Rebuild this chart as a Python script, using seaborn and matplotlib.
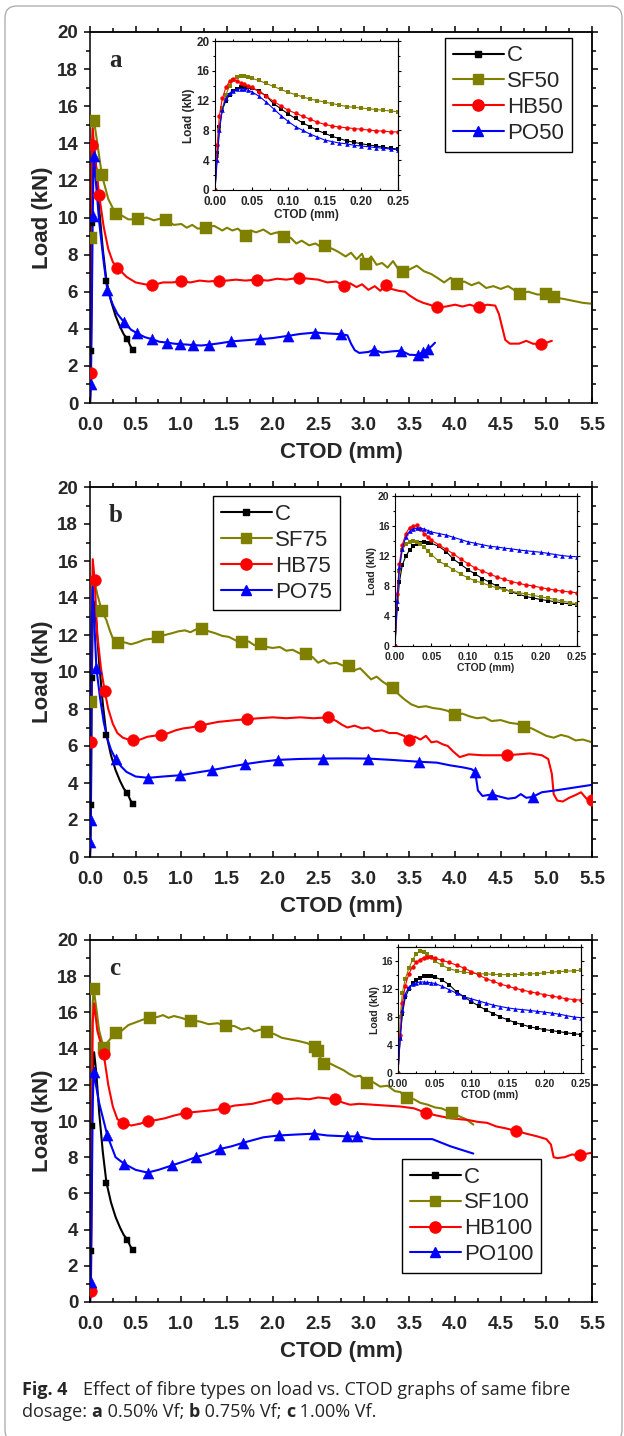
import matplotlib
matplotlib.use("Agg")
import matplotlib.pyplot as plt
import seaborn as sns
from matplotlib.lines import Line2D
from matplotlib.patches import FancyBboxPatch
from matplotlib.ticker import MultipleLocator, NullFormatter

# ---------------- data: main load vs CTOD curves ----------------
# Plain concrete (control), same specimen in every panel
C_X = [0, 0.01, 0.02, 0.03, 0.045, 0.07, 0.1, 0.14, 0.18, 0.23, 0.28, 0.33, 0.37, 0.41, 0.44, 0.47]
C_Y = [0, 2.8, 9.7, 12.8, 13.8, 12.6, 10.5, 8.3, 6.6, 5.5, 4.7, 4.1, 3.7, 3.45, 3.1, 2.85]
C_MX = [0.01, 0.02, 0.18, 0.41, 0.47]
C_MY = [2.8, 9.7, 6.6, 3.45, 2.85]

# ---- 0.50 % Vf ----
SF50_X = [0, 0.01, 0.02, 0.03, 0.045, 0.08, 0.13, 0.2, 0.25, 0.29, 0.35, 0.42, 0.53, 0.62, 0.7, 0.78,
          0.83, 0.92, 1.0, 1.06, 1.12, 1.18, 1.27, 1.36, 1.45, 1.5, 1.56, 1.62, 1.71, 1.76, 1.82, 1.9,
          1.98, 2.05, 2.13, 2.2, 2.26, 2.32, 2.4, 2.47, 2.52, 2.58, 2.66, 2.72, 2.8, 2.86, 2.92, 2.98,
          3.02, 3.08, 3.14, 3.2, 3.26, 3.32, 3.38, 3.43, 3.5, 3.58, 3.66, 3.74, 3.82, 3.88, 3.95, 4.02,
          4.1, 4.18, 4.26, 4.34, 4.42, 4.5, 4.58, 4.66, 4.71, 4.8, 4.9, 5.0, 5.08, 5.2, 5.3, 5.4, 5.5]
SF50_Y = [0, 8.9, 13.5, 15.0, 15.2, 14.0, 12.3, 11.0, 10.5, 10.2, 10.1, 9.9, 9.9, 10.0, 9.85, 9.95,
          9.85, 9.6, 9.65, 9.45, 9.6, 9.4, 9.45, 9.55, 9.3, 9.45, 9.3, 9.4, 9.0, 9.3, 9.2, 9.35,
          9.1, 9.2, 8.95, 8.9, 8.6, 8.75, 8.5, 8.6, 8.45, 8.45, 8.3, 8.15, 7.9, 8.1, 7.75, 8.05,
          7.5, 7.9, 7.45, 7.55, 7.3, 7.65, 7.2, 7.05, 7.2, 7.4, 7.1, 6.95, 6.7, 6.5, 6.75, 6.4,
          6.55, 6.35, 6.5, 6.2, 6.3, 6.15, 6.3, 6.05, 5.9, 6.0, 5.85, 5.85, 5.7, 5.6, 5.5, 5.4, 5.35]
SF50_MX = [0.01, 0.045, 0.13, 0.29, 0.53, 0.83, 1.27, 1.71, 2.13, 2.58, 3.02, 3.43, 4.02, 4.71, 5.0, 5.08]
SF50_MY = [8.9, 15.2, 12.3, 10.2, 9.9, 9.85, 9.45, 9.0, 8.95, 8.45, 7.5, 7.05, 6.4, 5.9, 5.85, 5.7]

HB50_X = [0, 0.01, 0.015, 0.02, 0.03, 0.05, 0.1, 0.15, 0.2, 0.25, 0.3, 0.4, 0.5, 0.6, 0.68, 0.8, 0.9,
          1.0, 1.1, 1.2, 1.3, 1.41, 1.5, 1.6, 1.7, 1.83, 1.95, 2.05, 2.15, 2.29, 2.4, 2.5, 2.6, 2.7,
          2.78, 2.85, 2.92, 2.98, 3.05, 3.12, 3.18, 3.24, 3.3, 3.38, 3.45, 3.5, 3.58, 3.65, 3.72, 3.8,
          3.9, 4.0, 4.08, 4.16, 4.26, 4.35, 4.44, 4.48, 4.52, 4.55, 4.6, 4.7, 4.78, 4.85, 4.94, 5.0, 5.06]
HB50_Y = [0, 1.6, 8.0, 13.0, 14.8, 13.5, 11.2, 9.5, 8.3, 7.6, 7.3, 6.8, 6.5, 6.4, 6.35, 6.5, 6.5,
          6.55, 6.5, 6.6, 6.55, 6.6, 6.6, 6.65, 6.6, 6.65, 6.6, 6.7, 6.65, 6.75, 6.7, 6.65, 6.5, 6.55,
          6.3, 6.45, 6.25, 6.4, 6.1, 6.3, 6.05, 6.35, 6.15, 6.05, 6.0, 5.8, 5.55, 5.4, 5.3, 5.15,
          5.2, 5.3, 5.2, 5.3, 5.15, 5.3, 5.25, 4.8, 4.0, 3.4, 3.2, 3.2, 3.35, 3.2, 3.17, 3.25, 3.35]
HB50_MX = [0.01, 0.025, 0.1, 0.3, 0.68, 1.0, 1.41, 1.83, 2.29, 2.78, 3.24, 3.8, 4.26, 4.94]
HB50_MY = [1.6, 13.9, 11.2, 7.3, 6.35, 6.55, 6.6, 6.65, 6.75, 6.3, 6.35, 5.15, 5.15, 3.17]

PO50_X = [0, 0.01, 0.02, 0.03, 0.04, 0.06, 0.1, 0.15, 0.19, 0.25, 0.3, 0.37, 0.45, 0.52, 0.6, 0.68,
          0.76, 0.84, 0.92, 0.99, 1.06, 1.13, 1.22, 1.3, 1.42, 1.55, 1.7, 1.86, 2.0, 2.17, 2.3, 2.47,
          2.6, 2.75, 2.82, 2.86, 2.9, 2.95, 3.05, 3.11, 3.2, 3.3, 3.41, 3.5, 3.59, 3.65, 3.7, 3.74, 3.78]
PO50_Y = [0, 1.0, 5.0, 10.1, 13.3, 12.2, 9.8, 7.6, 6.1, 5.3, 4.8, 4.38, 3.95, 3.75, 3.55, 3.44,
          3.3, 3.26, 3.2, 3.17, 3.15, 3.12, 3.1, 3.14, 3.22, 3.32, 3.38, 3.44, 3.5, 3.62, 3.72, 3.8,
          3.75, 3.71, 3.65, 3.2, 2.85, 2.7, 2.75, 2.87, 2.72, 2.78, 2.82, 2.6, 2.58, 2.75, 2.9, 3.05, 3.25]
PO50_MX = [0.01, 0.03, 0.04, 0.19, 0.37, 0.52, 0.68, 0.84, 0.99, 1.13, 1.3, 1.55, 1.86, 2.17, 2.47,
           2.75, 3.11, 3.41, 3.59, 3.65, 3.7]
PO50_MY = [1.0, 10.1, 13.3, 6.1, 4.38, 3.75, 3.44, 3.26, 3.17, 3.12, 3.14, 3.32, 3.44, 3.62, 3.8,
           3.71, 2.87, 2.82, 2.58, 2.75, 2.9]

# ---- 0.75 % Vf ----
SF75_X = [0, 0.01, 0.02, 0.03, 0.045, 0.08, 0.13, 0.18, 0.22, 0.26, 0.31, 0.38, 0.45, 0.52, 0.6,
          0.68, 0.75, 0.82, 0.9, 0.97, 1.04, 1.1, 1.16, 1.23, 1.3, 1.37, 1.45, 1.52, 1.6, 1.67,
          1.74, 1.8, 1.87, 1.94, 2.0, 2.08, 2.15, 2.22, 2.3, 2.37, 2.44, 2.5, 2.56, 2.62, 2.7,
          2.77, 2.84, 2.9, 2.96, 3.02, 3.08, 3.14, 3.2, 3.26, 3.32, 3.38, 3.45, 3.52, 3.6, 3.68,
          3.76, 3.84, 3.92, 4.0, 4.08, 4.16, 4.24, 4.32, 4.4, 4.5, 4.6, 4.68, 4.76, 4.84, 4.92,
          5.0, 5.08, 5.16, 5.24, 5.32, 5.4, 5.5]
SF75_Y = [0, 8.4, 13.0, 14.8, 15.0, 14.2, 13.3, 12.8, 12.2, 11.7, 11.55, 11.6, 11.5, 11.6, 11.75,
          11.8, 11.9, 12.0, 12.1, 12.2, 12.25, 12.15, 12.3, 12.35, 12.2, 12.1, 11.95, 11.9, 11.7, 11.6,
          11.65, 11.45, 11.5, 11.35, 11.3, 11.35, 11.15, 11.2, 11.0, 10.95, 10.8, 10.5, 10.65, 10.45, 10.5,
          10.35, 10.3, 10.1, 10.2, 9.9, 9.6, 9.75, 9.5, 9.3, 9.15, 8.8, 8.5, 8.25, 8.1, 8.15,
          8.05, 8.0, 7.9, 7.65, 7.75, 7.6, 7.5, 7.55, 7.35, 7.4, 7.25, 7.2, 7.05, 6.95, 6.75,
          6.55, 6.45, 6.6, 6.5, 6.3, 6.35, 6.2]
SF75_MX = [0.01, 0.13, 0.31, 0.75, 1.23, 1.67, 1.87, 2.37, 2.84, 3.32, 4.0, 4.76]
SF75_MY = [8.4, 13.3, 11.55, 11.9, 12.35, 11.6, 11.5, 10.95, 10.3, 9.15, 7.65, 7.05]

HB75_X = [0, 0.01, 0.02, 0.03, 0.05, 0.08, 0.12, 0.16, 0.2, 0.25, 0.3, 0.36, 0.42, 0.47, 0.55,
          0.63, 0.7, 0.78, 0.86, 0.94, 1.02, 1.1, 1.21, 1.3, 1.4, 1.5, 1.6, 1.72, 1.85, 2.0,
          2.15, 2.3, 2.45, 2.61, 2.7, 2.76, 2.82, 2.9, 2.98, 3.05, 3.12, 3.2, 3.28, 3.36, 3.44,
          3.5, 3.56, 3.62, 3.68, 3.74, 3.8, 3.86, 3.92, 3.98, 4.05, 4.15, 4.3, 4.45, 4.57, 4.7,
          4.82, 4.95, 5.02, 5.06, 5.08, 5.12, 5.18, 5.25, 5.32, 5.38, 5.44, 5.5]
HB75_Y = [0, 6.2, 13.0, 16.1, 15.0, 12.0, 10.2, 9.0, 8.0, 7.2, 6.7, 6.45, 6.35, 6.3, 6.35,
          6.5, 6.55, 6.6, 6.7, 6.85, 6.95, 7.0, 7.1, 7.2, 7.3, 7.35, 7.4, 7.45, 7.5, 7.55,
          7.5, 7.55, 7.5, 7.55, 7.35, 7.15, 7.0, 7.1, 6.95, 7.0, 6.8, 6.85, 6.7, 6.7, 6.55,
          6.3, 6.5, 6.35, 6.55, 6.2, 6.25, 6.1, 6.0, 5.7, 5.4, 5.55, 5.5, 5.5, 5.5, 5.55,
          5.6, 5.5, 5.3, 4.5, 3.4, 3.05, 3.0, 3.2, 3.35, 3.5, 3.15, 3.1]
HB75_MX = [0.01, 0.05, 0.16, 0.47, 0.78, 1.21, 1.72, 2.61, 3.5, 4.57, 5.5]
HB75_MY = [6.2, 15.0, 9.0, 6.3, 6.6, 7.1, 7.45, 7.55, 6.3, 5.5, 3.1]

PO75_X = [0, 0.005, 0.01, 0.015, 0.02, 0.03, 0.07, 0.11, 0.15, 0.19, 0.23, 0.28, 0.34, 0.4, 0.5,
          0.64, 0.8, 0.99, 1.15, 1.34, 1.5, 1.7, 1.88, 2.06, 2.3, 2.55, 2.8, 3.05, 3.3, 3.6,
          3.8, 3.95, 4.08, 4.18, 4.22, 4.25, 4.3, 4.4, 4.5, 4.58, 4.66, 4.72, 4.78, 4.85, 4.95,
          5.1, 5.3, 5.5]
PO75_Y = [0, 0.8, 2.0, 8.0, 12.5, 14.6, 10.2, 8.6, 7.3, 6.4, 5.8, 5.3, 4.9, 4.6, 4.35,
          4.28, 4.35, 4.42, 4.55, 4.7, 4.85, 5.02, 5.15, 5.25, 5.3, 5.32, 5.33, 5.32, 5.25, 5.15,
          5.1, 4.95, 4.85, 4.75, 4.6, 3.6, 3.3, 3.38, 3.25, 3.15, 3.2, 3.4, 3.2, 3.25, 3.5,
          3.6, 3.75, 3.9]
PO75_MX = [0.005, 0.01, 0.07, 0.28, 0.64, 0.99, 1.34, 1.7, 2.06, 2.55, 3.05, 3.6, 4.22, 4.4, 4.85]
PO75_MY = [0.8, 2.0, 10.2, 5.3, 4.28, 4.42, 4.7, 5.02, 5.25, 5.32, 5.32, 5.15, 4.6, 3.38, 3.25]

# ---- 1.00 % Vf ----
SF100_X = [0, 0.01, 0.02, 0.03, 0.04, 0.07, 0.1, 0.15, 0.2, 0.25, 0.29, 0.35, 0.42, 0.5, 0.58,
           0.66, 0.74, 0.8, 0.86, 0.92, 1.0, 1.06, 1.11, 1.2, 1.3, 1.4, 1.49, 1.58, 1.66, 1.74,
           1.8, 1.87, 1.94, 2.02, 2.1, 2.2, 2.3, 2.38, 2.46, 2.5, 2.53, 2.56, 2.6, 2.66, 2.72,
           2.78, 2.84, 2.9, 2.96, 3.03, 3.1, 3.18, 3.26, 3.34, 3.4, 3.47, 3.55, 3.62, 3.7, 3.78,
           3.85, 3.92, 3.97, 4.05, 4.12, 4.2]
SF100_Y = [0, 8.0, 13.8, 16.5, 17.3, 16.2, 15.0, 14.05, 14.4, 14.7, 14.85, 15.0, 15.3, 15.45, 15.6,
           15.7, 15.75, 15.85, 15.7, 15.8, 15.7, 15.6, 15.55, 15.5, 15.35, 15.4, 15.25, 15.25, 15.05, 15.15,
           14.95, 15.05, 14.9, 14.8, 14.6, 14.5, 14.4, 14.3, 14.1, 13.85, 13.4, 13.15, 13.25, 13.1, 12.95,
           12.8, 12.6, 12.45, 12.5, 12.1, 12.15, 11.9, 11.95, 11.65, 11.6, 11.25, 11.2, 11.0, 10.9, 10.75,
           10.7, 10.55, 10.45, 10.25, 10.1, 9.8]
SF100_MX = [0.04, 0.15, 0.29, 0.66, 1.11, 1.49, 1.94, 2.46, 2.5, 2.56, 3.03, 3.47, 3.97]
SF100_MY = [17.3, 14.05, 14.85, 15.7, 15.55, 15.25, 14.9, 14.1, 13.85, 13.15, 12.1, 11.25, 10.45]

HB100_X = [0, 0.01, 0.02, 0.03, 0.045, 0.08, 0.15, 0.2, 0.25, 0.3, 0.36, 0.45, 0.55, 0.63, 0.72,
           0.82, 0.92, 1.05, 1.15, 1.25, 1.35, 1.47, 1.58, 1.68, 1.78, 1.9, 2.05, 2.15, 2.28, 2.4,
           2.5, 2.6, 2.68, 2.78, 2.85, 2.95, 3.1, 3.25, 3.4, 3.55, 3.68, 3.8, 3.95, 4.05, 4.15,
           4.25, 4.35, 4.45, 4.55, 4.67, 4.78, 4.9, 5.0, 5.05, 5.08, 5.12, 5.2, 5.28, 5.37, 5.45, 5.5]
HB100_Y = [0, 0.6, 9.0, 15.5, 16.5, 15.0, 13.7, 12.0, 10.8, 10.1, 9.9, 9.75, 9.85, 10.0, 10.05,
           10.15, 10.3, 10.45, 10.5, 10.55, 10.6, 10.7, 10.85, 10.9, 10.95, 11.1, 11.25, 11.2, 11.25, 11.2,
           11.3, 11.25, 11.2, 11.0, 10.9, 10.95, 10.9, 10.85, 10.8, 10.7, 10.45, 10.3, 10.15, 10.1, 10.05,
           9.95, 9.9, 9.7, 9.6, 9.45, 9.3, 9.15, 9.0, 8.7, 8.0, 7.95, 8.0, 8.15, 8.1, 8.2, 8.25]
HB100_MX = [0.01, 0.15, 0.36, 0.63, 1.05, 1.47, 2.05, 2.68, 3.68, 4.67, 5.37]
HB100_MY = [0.6, 13.7, 9.9, 10.0, 10.45, 10.7, 11.25, 11.2, 10.45, 9.45, 8.1]

PO100_X = [0, 0.01, 0.02, 0.03, 0.04, 0.1, 0.19, 0.28, 0.37, 0.5, 0.63, 0.75, 0.9, 1.05, 1.16,
           1.3, 1.42, 1.55, 1.68, 1.9, 2.07, 2.25, 2.45, 2.6, 2.82, 2.93, 3.1, 3.5, 3.75, 3.95, 4.2]
PO100_Y = [0, 1.1, 6.0, 11.0, 12.7, 11.0, 9.2, 8.0, 7.65, 7.3, 7.15, 7.3, 7.55, 7.8, 8.0,
           8.2, 8.45, 8.6, 8.8, 9.1, 9.2, 9.25, 9.3, 9.2, 9.15, 9.15, 9.0, 9.0, 9.0, 8.6, 8.2]
PO100_MX = [0.01, 0.04, 0.19, 0.37, 0.63, 0.9, 1.16, 1.42, 1.68, 2.07, 2.45, 2.82, 2.93]
PO100_MY = [1.1, 12.7, 9.2, 7.65, 7.15, 7.55, 8.0, 8.45, 8.8, 9.2, 9.3, 9.15, 9.15]

# ---------------- data: pre-peak / early post-peak detail (0 - 0.25 mm) ----------------
INSET_X = [0, 0.003, 0.006, 0.01, 0.015, 0.02, 0.025, 0.03, 0.035, 0.04, 0.045, 0.05,
           0.06, 0.07, 0.08, 0.09, 0.10, 0.11, 0.12, 0.13, 0.14, 0.15, 0.16, 0.17, 0.18,
           0.19, 0.20, 0.21, 0.22, 0.23, 0.24, 0.25]
C_IN = [0, 5.0, 8.5, 10.8, 12.0, 12.8, 13.3, 13.6, 13.8, 13.85, 13.8, 13.7,
        13.3, 12.6, 11.6, 10.9, 10.2, 9.6, 9.0, 8.5, 8.0, 7.6, 7.2, 6.9, 6.6,
        6.4, 6.2, 6.05, 5.9, 5.75, 5.6, 5.5]
SF50_IN = [0, 4.5, 8.0, 11.0, 12.8, 14.0, 14.8, 15.2, 15.3, 15.3, 15.2, 15.0,
           14.7, 14.3, 13.9, 13.5, 13.1, 12.8, 12.5, 12.2, 12.0, 11.8, 11.6, 11.4, 11.2,
           11.1, 11.0, 10.9, 10.8, 10.7, 10.6, 10.5]
HB50_IN = [0, 6.0, 10.0, 12.3, 13.8, 14.6, 14.9, 14.6, 14.4, 14.2, 14.0, 13.8,
           13.2, 12.6, 11.9, 11.3, 10.7, 10.3, 9.9, 9.5, 9.1, 8.8, 8.6, 8.45, 8.35,
           8.25, 8.15, 8.05, 7.95, 7.9, 7.8, 7.8]
PO50_IN = [0, 4.0, 8.0, 10.8, 12.3, 13.0, 13.3, 13.5, 13.6, 13.55, 13.4, 13.2,
           12.6, 11.8, 10.9, 10.0, 9.2, 8.5, 8.0, 7.5, 7.1, 6.7, 6.5, 6.3, 6.2,
           6.0, 5.9, 5.8, 5.7, 5.6, 5.5, 5.4]
SF75_IN = [0, 6.0, 10.0, 12.8, 13.6, 13.9, 14.0, 13.9, 13.6, 13.2, 12.7, 12.2,
           11.3, 10.8, 10.2, 9.6, 9.1, 8.7, 8.4, 8.05, 7.75, 7.5, 7.3, 7.1, 6.95,
           6.75, 6.55, 6.4, 6.2, 6.0, 5.8, 5.6]
HB75_IN = [0, 7.0, 11.0, 13.5, 15.0, 15.8, 16.0, 16.1, 15.6, 15.0, 14.6, 14.1,
           13.5, 12.9, 12.3, 11.6, 11.0, 10.4, 10.0, 9.6, 9.2, 8.9, 8.6, 8.35, 8.15,
           8.0, 7.8, 7.6, 7.45, 7.3, 7.2, 7.1]
PO75_IN = [0, 6.0, 10.5, 13.0, 14.6, 15.3, 15.6, 15.7, 15.7, 15.6, 15.4, 15.2,
           15.0, 14.8, 14.5, 14.2, 13.9, 13.7, 13.5, 13.3, 13.2, 13.05, 12.95, 12.8, 12.7,
           12.6, 12.5, 12.35, 12.2, 12.05, 11.95, 11.9]
SF100_IN = [0, 8.0, 11.5, 13.5, 15.0, 16.2, 17.0, 17.4, 17.3, 17.0, 16.6, 16.0,
            15.4, 14.9, 14.6, 14.4, 14.3, 14.2, 14.15, 14.1, 14.05, 14.05, 14.05, 14.1, 14.15,
            14.2, 14.3, 14.4, 14.5, 14.55, 14.6, 14.7]
HB100_IN = [0, 5.5, 10.0, 12.5, 14.2, 15.2, 15.8, 16.2, 16.5, 16.6, 16.6, 16.4,
            16.1, 15.8, 15.4, 15.0, 14.5, 14.0, 13.5, 13.1, 12.7, 12.4, 12.1, 11.85, 11.6,
            11.4, 11.2, 11.0, 10.8, 10.6, 10.5, 10.4]
PO100_IN = [0, 5.0, 9.0, 11.3, 12.3, 12.7, 12.9, 13.0, 13.0, 12.95, 12.9, 12.8,
            12.4, 11.9, 11.4, 10.9, 10.6, 10.3, 10.0, 9.7, 9.5, 9.3, 9.15, 9.05, 8.95,
            8.8, 8.7, 8.55, 8.4, 8.2, 8.0, 7.9]

# ---------------- style ----------------
COLORS = {"C": "#000000", "SF": "#808000", "HB": "#ff0000", "PO": "#0000ff"}
MARKER = {"C": "s", "SF": "s", "HB": "o", "PO": "^"}
MSIZE = {"C": 5.0, "SF": 8.0, "HB": 8.5, "PO": 8.0}
MSIZE_IN = {"C": 2.6, "SF": 3.0, "HB": 3.2, "PO": 3.3}

sns.set_theme(style="ticks")
plt.rcParams["font.family"] = ["Liberation Sans", "DejaVu Sans"]
plt.rcParams["axes.linewidth"] = 1.1

W, H = 624, 1436
fig = plt.figure(figsize=(W / 100, H / 100), dpi=100)
fig.patch.set_facecolor("white")


def px_axes(left, top, right, bottom):
    return fig.add_axes([left / W, 1 - bottom / H, (right - left) / W, (bottom - top) / H])


def style_ticks(ax, xmaj, xmin, ymaj, ymin, size, family, weight, xpad, ypad, lmaj, lmin, lw):
    ax.xaxis.set_major_locator(MultipleLocator(xmaj))
    ax.xaxis.set_minor_locator(MultipleLocator(xmin))
    ax.yaxis.set_major_locator(MultipleLocator(ymaj))
    ax.yaxis.set_minor_locator(MultipleLocator(ymin))
    ax.tick_params(axis="x", which="both", direction="in", bottom=True, top=False,
                   labelsize=size, pad=xpad, width=lw, color="black")
    ax.tick_params(axis="y", which="both", direction="out", left=True, right=False,
                   labelsize=size, pad=ypad, width=lw, color="black")
    ax.tick_params(which="major", length=lmaj)
    ax.tick_params(which="minor", length=lmin)
    for lab in ax.get_xticklabels() + ax.get_yticklabels():
        lab.set_fontweight(weight)
        lab.set_family(family)
    for sp in ax.spines.values():
        sp.set_visible(True)
        sp.set_color("black")
        sp.set_linewidth(lw)
    top = ax.secondary_xaxis("top")
    top.xaxis.set_major_locator(MultipleLocator(xmaj))
    top.xaxis.set_minor_locator(MultipleLocator(xmin))
    top.xaxis.set_major_formatter(NullFormatter())
    top.tick_params(which="both", direction="out", width=lw, color="black")
    top.tick_params(which="major", length=lmaj)
    top.tick_params(which="minor", length=lmin)
    top.spines["top"].set_linewidth(lw)
    right = ax.secondary_yaxis("right")
    right.yaxis.set_major_locator(MultipleLocator(ymaj))
    right.yaxis.set_minor_locator(MultipleLocator(ymin))
    right.yaxis.set_major_formatter(NullFormatter())
    right.tick_params(which="both", direction="out", width=lw, color="black")
    right.tick_params(which="major", length=lmaj)
    right.tick_params(which="minor", length=lmin)
    right.spines["right"].set_linewidth(lw)


def kind(label):
    return "C" if label == "C" else label[:2]


def draw_main(ax, curves, letter, legend_anchor):
    for label, (xs, ys, mx, my) in curves.items():
        k = kind(label)
        sns.lineplot(x=xs, y=ys, ax=ax, color=COLORS[k], lw=1.5, sort=False,
                     estimator=None, legend=False, zorder=2)
        sns.scatterplot(x=mx, y=my, ax=ax, marker=MARKER[k], s=MSIZE[k] ** 2,
                        color=COLORS[k], edgecolor=COLORS[k], linewidth=0.3,
                        legend=False, zorder=3)
    ax.set_xlim(0, 5.5)
    ax.set_ylim(0, 20)
    style_ticks(ax, 0.5, 0.25, 2, 1, 13.5, "Liberation Sans", "bold", 10, 4, 4.5, 2.6, 1.1)
    ax.set_xlabel("CTOD (mm)", fontsize=16, fontweight="bold", labelpad=6)
    ax.set_ylabel("Load (kN)", fontsize=16, fontweight="bold", labelpad=3)
    ax.text(0.21, 18.45, letter, fontsize=18, fontweight="bold",
            family=["Liberation Serif", "DejaVu Serif"], ha="left", va="center")
    handles = []
    for label in curves:
        k = kind(label)
        handles.append(Line2D([], [], color=COLORS[k], lw=1.5, marker=MARKER[k],
                              markersize=MSIZE[k] * 0.95, label=label))
    leg = ax.legend(handles=handles, loc=legend_anchor[0], bbox_to_anchor=legend_anchor[1],
                    frameon=True, fancybox=False, framealpha=1, edgecolor="black",
                    prop={"family": "Liberation Sans", "size": 16}, handlelength=2.3,
                    handletextpad=0.15, labelspacing=0.22, borderpad=0.35, borderaxespad=0)
    leg.get_frame().set_linewidth(1.0)


def draw_inset(ax, curves, ymax, size):
    for label, ys in curves.items():
        k = kind(label)
        sns.lineplot(x=INSET_X, y=ys, ax=ax, color=COLORS[k], lw=0.8, sort=False,
                     estimator=None, legend=False, marker=MARKER[k],
                     markersize=MSIZE_IN[k], markeredgewidth=0, zorder=2)
    ax.set_xlim(0, 0.25)
    ax.set_ylim(0, ymax)
    ax.set_facecolor("white")
    style_ticks(ax, 0.05, 0.025, 4, 2, size, ["Liberation Sans Narrow", "Liberation Sans"],
                "bold", 4, 1.5, 2.5, 1.5, 0.8)
    ax.set_xlabel("CTOD (mm)", fontsize=size, fontweight="bold", labelpad=1)
    ax.set_ylabel("Load (kN)", fontsize=size, fontweight="bold", labelpad=1)


# ---------------- panel (a) 0.50 % Vf ----------------
ax_a = px_axes(90, 32, 592, 403)
draw_main(ax_a, {
    "C": (C_X, C_Y, C_MX, C_MY),
    "SF50": (SF50_X, SF50_Y, SF50_MX, SF50_MY),
    "HB50": (HB50_X, HB50_Y, HB50_MX, HB50_MY),
    "PO50": (PO50_X, PO50_Y, PO50_MX, PO50_MY),
}, "a", ("upper left", (0.707, 0.985)))
ins_a = px_axes(215, 41, 398, 190)
draw_inset(ins_a, {"C": C_IN, "SF50": SF50_IN, "HB50": HB50_IN, "PO50": PO50_IN}, 20, 8.5)

# ---------------- panel (b) 0.75 % Vf ----------------
ax_b = px_axes(90, 487, 592, 857)
draw_main(ax_b, {
    "C": (C_X, C_Y, C_MX, C_MY),
    "SF75": (SF75_X, SF75_Y, SF75_MX, SF75_MY),
    "HB75": (HB75_X, HB75_Y, HB75_MX, HB75_MY),
    "PO75": (PO75_X, PO75_Y, PO75_MX, PO75_MY),
}, "b", ("upper left", (0.245, 0.975)))
ins_b = px_axes(395, 496, 577, 646)
draw_inset(ins_b, {"C": C_IN, "SF75": SF75_IN, "HB75": HB75_IN, "PO75": PO75_IN}, 20, 7.5)

# ---------------- panel (c) 1.00 % Vf ----------------
ax_c = px_axes(90, 940, 592, 1302)
draw_main(ax_c, {
    "C": (C_X, C_Y, C_MX, C_MY),
    "SF100": (SF100_X, SF100_Y, SF100_MX, SF100_MY),
    "HB100": (HB100_X, HB100_Y, HB100_MX, HB100_MY),
    "PO100": (PO100_X, PO100_Y, PO100_MX, PO100_MY),
}, "c", ("lower left", (0.6215, 0.08)))
ins_c = px_axes(398, 947, 581, 1073)
draw_inset(ins_c, {"C": C_IN, "SF100": SF100_IN, "HB100": HB100_IN, "PO100": PO100_IN}, 18, 7.5)

# ---------------- caption ----------------
renderer = fig.canvas.get_renderer()
CAP_FONT = ["Open Sans", "DejaVu Sans"]
CAP_SIZE = 13


def text_runs(x_px, y_px, runs):
    x = x_px
    for txt, weight in runs:
        t = fig.text(x / W, 1 - y_px / H, txt, fontsize=CAP_SIZE, fontweight=weight,
                     family=CAP_FONT, ha="left", va="baseline")
        x = t.get_window_extent(renderer).x1


text_runs(22, 1395, [("Fig. 4", "bold")])
text_runs(83, 1395, [("Effect of fibre types on load vs. CTOD graphs of same fibre", "normal")])
text_runs(22, 1417, [("dosage: ", "normal"), ("a", "bold"), (" 0.50% Vf; ", "normal"),
                     ("b", "bold"), (" 0.75% Vf; ", "normal"), ("c", "bold"),
                     (" 1.00% Vf.", "normal")])

# thin rounded frame around the whole figure
frame = FancyBboxPatch((0.05, -0.06), 6.17, 14.36, boxstyle="round,pad=0,rounding_size=0.12",
                       transform=fig.dpi_scale_trans, facecolor="none", edgecolor="#a8a8a8",
                       linewidth=0.9, zorder=-1)
fig.patches.append(frame)

fig.savefig("out.png", dpi=100, facecolor="white")
